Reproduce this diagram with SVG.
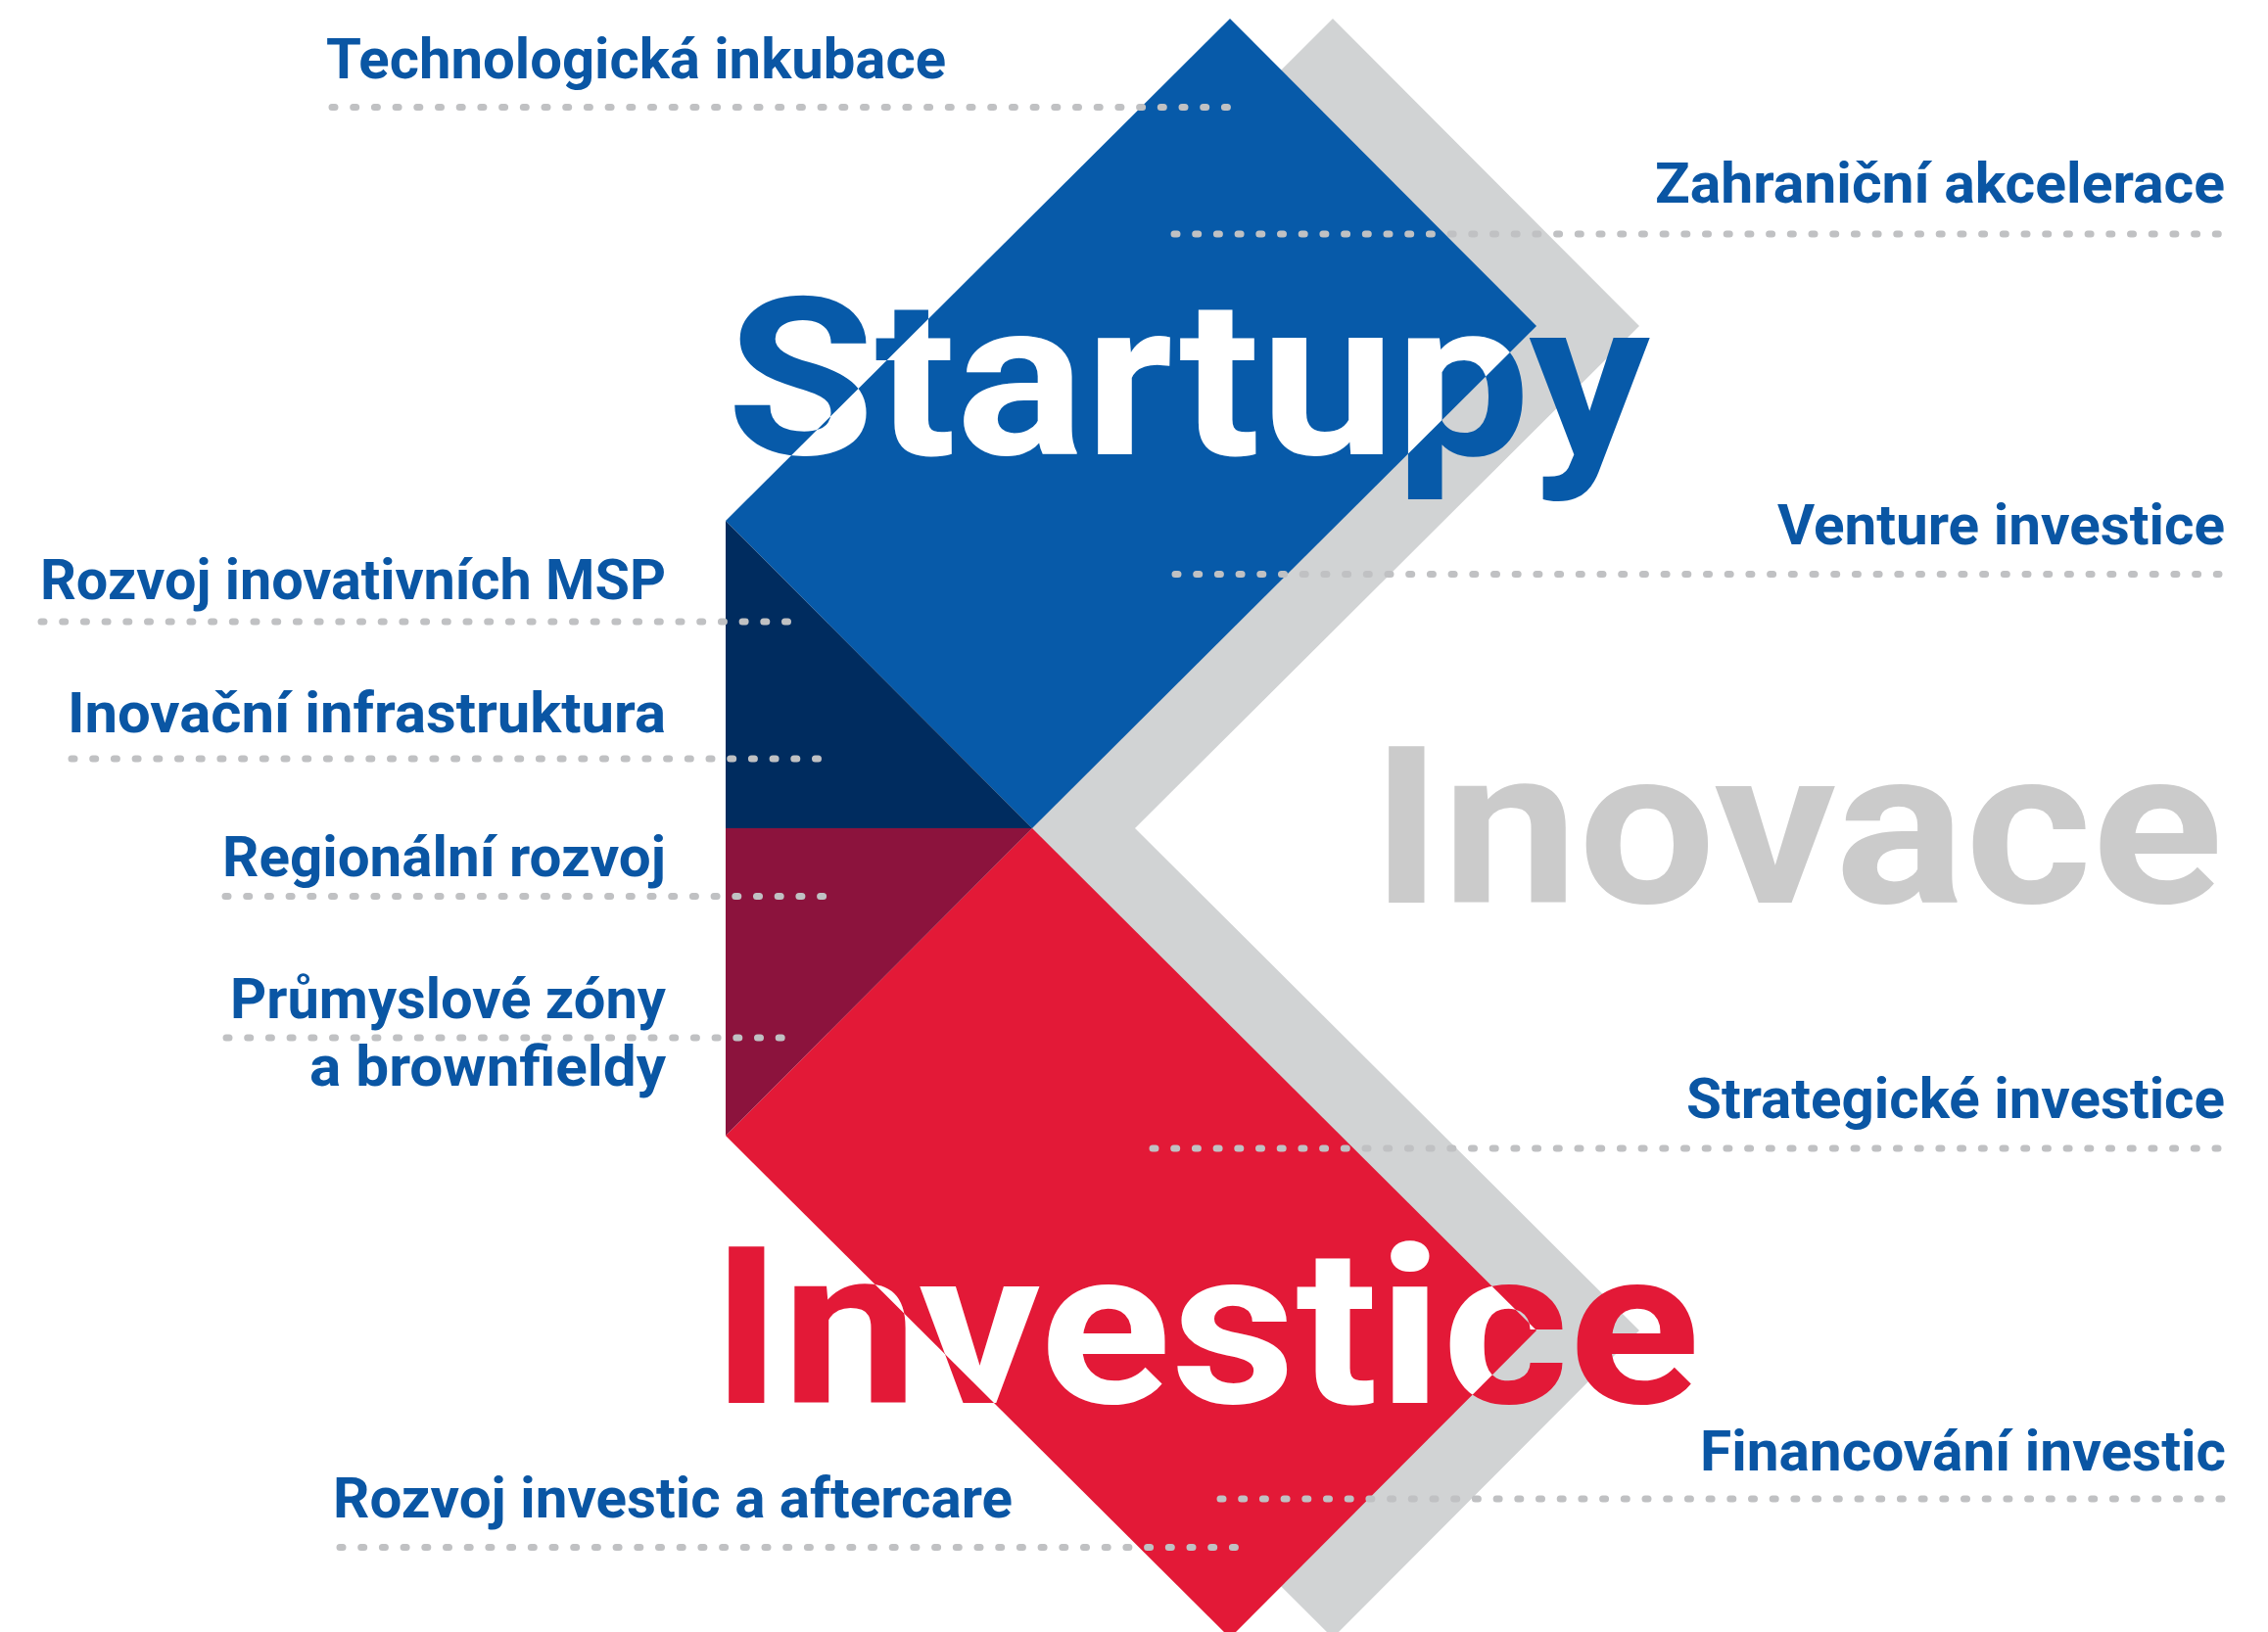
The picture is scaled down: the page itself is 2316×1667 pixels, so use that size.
<svg xmlns="http://www.w3.org/2000/svg" width="2316" height="1667" viewBox="0 0 2316 1667">
  <defs>
    <style>
      .lbl { font-family: Roboto, "Liberation Sans", sans-serif; font-weight: 700; font-size: 57px; fill: #0a56a4; }
      .big { font-family: Roboto, "Liberation Sans", sans-serif; font-weight: 700; font-size: 225px; }
      .dots { fill: none; stroke: #c0c1c3; stroke-width: 7; stroke-linecap: round; stroke-dasharray: 3 18.7; }
    </style>
    <clipPath id="clipBlue">
      <polygon points="1256,19 1569,333 1054,846 741,532"/>
    </clipPath>
    <clipPath id="clipRed">
      <polygon points="1054,846 1569,1359 1256,1673 741,1160"/>
    </clipPath>
  </defs>
  <rect width="2316" height="1667" fill="#ffffff"/>

  <g id="shapes">
    <polygon id="gray-chevron" points="1361,19 1674,333 1159,846 1674,1359 1361,1673 846,1160 846,532" fill="#d1d3d4"/>
    <polygon id="blue" points="1256,19 1569,333 1054,846 741,532" fill="#075aa9"/>
    <polygon id="red" points="1054,846 1569,1359 1256,1673 741,1160" fill="#e31937"/>
    <polygon id="navy" points="741,532 1054,846 741,846" fill="#002c5f"/>
    <polygon id="maroon" points="741,846 1054,846 741,1160" fill="#8c133d"/>
  </g>

  <g id="startupy">
    <text class="big" x="742" y="464" textLength="943" lengthAdjust="spacingAndGlyphs" fill="#075aa9">Startupy</text>
    <g clip-path="url(#clipBlue)">
      <text class="big" x="742" y="464" textLength="943" lengthAdjust="spacingAndGlyphs" fill="#ffffff">Startupy</text>
    </g>
  </g>
  <g id="inovace">
    <text class="big" x="1400" y="922" textLength="870" lengthAdjust="spacingAndGlyphs" fill="#cbcbcb">Inovace</text>
  </g>
  <g id="investice">
    <text class="big" x="726" y="1433" textLength="1010" lengthAdjust="spacingAndGlyphs" fill="#e31937">Investice</text>
    <g clip-path="url(#clipRed)">
      <text class="big" x="726" y="1433" textLength="1010" lengthAdjust="spacingAndGlyphs" fill="#ffffff">Investice</text>
    </g>
  </g>

  <g id="connectors">
    <path class="dots" d="M339,109.5 H1253.4"/>
    <path class="dots" d="M1199,239 H2265.3"/>
    <path class="dots" d="M1200,586.5 H2266"/>
    <path class="dots" d="M42,635 H804.5"/>
    <path class="dots" d="M73,775 H835.5"/>
    <path class="dots" d="M230,915.5 H840.6"/>
    <path class="dots" d="M231,1060 H798.2"/>
    <path class="dots" d="M1177,1173 H2265"/>
    <path class="dots" d="M1246,1531 H2269"/>
    <path class="dots" d="M347,1580.5 H1261.4"/>
  </g>

  <g id="label-technologicka-inkubace">
    <text class="lbl" x="333" y="80" textLength="633" lengthAdjust="spacingAndGlyphs">Technologická inkubace</text>
  </g>
  <g id="label-zahranicni-akcelerace">
    <text class="lbl" x="1690" y="207" textLength="582" lengthAdjust="spacingAndGlyphs">Zahraniční akcelerace</text>
  </g>
  <g id="label-venture-investice">
    <text class="lbl" x="1815" y="556" textLength="457" lengthAdjust="spacingAndGlyphs">Venture investice</text>
  </g>
  <g id="label-rozvoj-msp">
    <text class="lbl" x="41" y="612" textLength="639" lengthAdjust="spacingAndGlyphs">Rozvoj inovativních MSP</text>
  </g>
  <g id="label-inovacni-infrastruktura">
    <text class="lbl" x="69" y="748" textLength="611" lengthAdjust="spacingAndGlyphs">Inovační infrastruktura</text>
  </g>
  <g id="label-regionalni-rozvoj">
    <text class="lbl" x="227" y="895" textLength="453" lengthAdjust="spacingAndGlyphs">Regionální rozvoj</text>
  </g>
  <g id="label-prumyslove-zony">
    <text class="lbl" x="235" y="1040" textLength="445" lengthAdjust="spacingAndGlyphs">Průmyslové zóny</text>
    <text class="lbl" x="316" y="1109" textLength="364" lengthAdjust="spacingAndGlyphs">a brownfieldy</text>
  </g>
  <g id="label-strategicke-investice">
    <text class="lbl" x="1722" y="1142" textLength="550" lengthAdjust="spacingAndGlyphs">Strategické investice</text>
  </g>
  <g id="label-financovani-investic">
    <text class="lbl" x="1736" y="1502" textLength="537" lengthAdjust="spacingAndGlyphs">Financování investic</text>
  </g>
  <g id="label-rozvoj-investic">
    <text class="lbl" x="340" y="1550" textLength="694" lengthAdjust="spacingAndGlyphs">Rozvoj investic a aftercare</text>
  </g>
</svg>
